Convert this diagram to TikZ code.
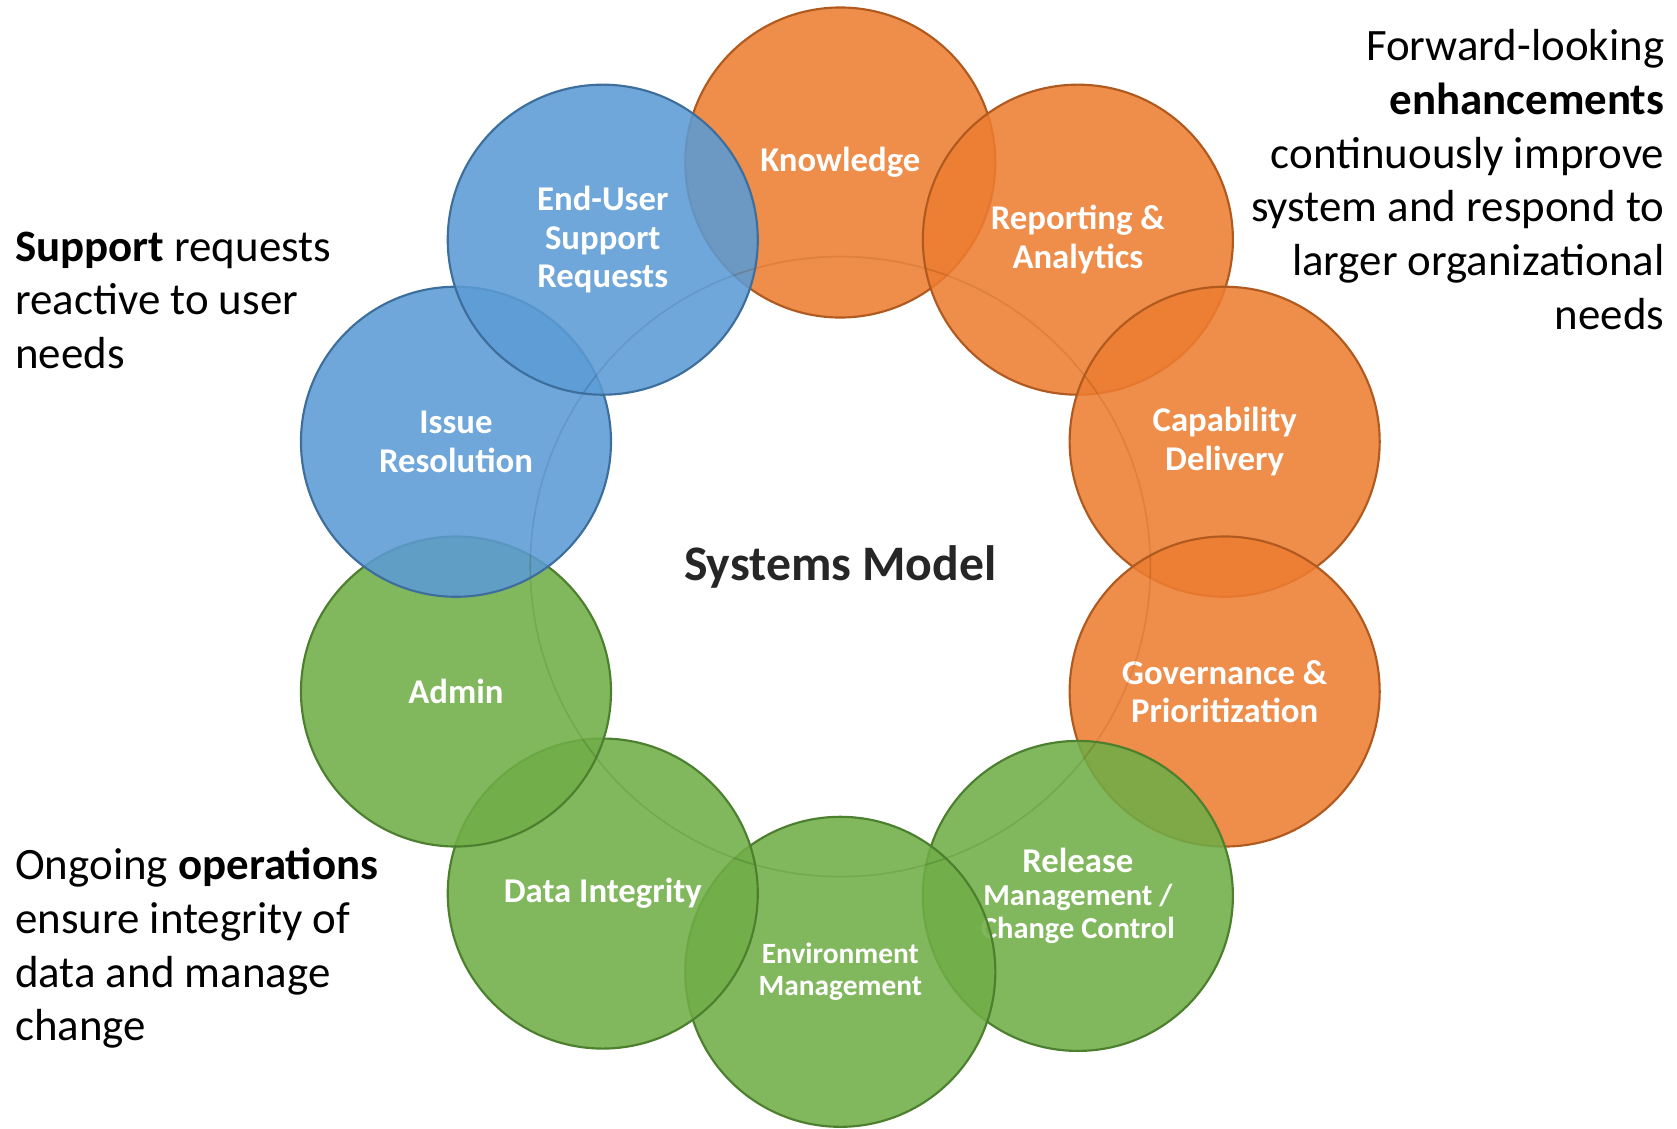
\documentclass[tikz,border=0pt]{standalone}
\usepackage{fontspec}
\setmainfont{Carlito}
\definecolor{org}{HTML}{ED7D31}
\definecolor{orgd}{HTML}{B05A1F}
\definecolor{blu}{HTML}{5B9BD5}
\definecolor{blud}{HTML}{3E6E9B}
\definecolor{grn}{HTML}{70AD47}
\definecolor{grnd}{HTML}{4C7F2E}
\definecolor{ink}{HTML}{262626}
\begin{document}
\begin{tikzpicture}[x=1pt,y=-1pt,
  bub/.style={circle, minimum size=290pt, inner sep=0pt, fill opacity=0.88, text opacity=1,
    line width=2pt, text=white, font=\bfseries\fontsize{32.5}{36}\selectfont, align=center},
  ob/.style={bub, fill=org, draw=orgd},
  bb/.style={bub, fill=blu, draw=blud},
  gb/.style={bub, fill=grn, draw=grnd},
  faint/.style={line width=1.5pt, draw opacity=0.25},
  side/.style={inner sep=0pt, text=black, font=\fontsize{42}{50.3}\selectfont}]
\useasboundingbox (0,0) rectangle (1568.6,1056);
\coordinate (ctr) at (786,530);
% bubbles
\node[ob] (know) at (786,152) {Knowledge};
\node[ob] (rep) at (1008.2,224.2) {Reporting \&\\Analytics};
\node[ob] (cap) at (1145.5,413.2) {Capability\\Delivery};
\node[ob] (gov) at (1145.5,646.8) {Governance \&\\Prioritization};
\node[gb, font=\bfseries\fontsize{28.5}{31}\selectfont] (rel) at (1008.2,838) {{\fontsize{32.5}{34}\selectfont Release}\\Management /\\Change Control};
\node[gb, font=\bfseries\fontsize{27.5}{30}\selectfont] (env) at (786,909) {Environment\\Management};
\node[gb] (data) at (563.8,835.8) {Data Integrity};
\node[gb] (adm) at (426.5,646.8) {Admin};
\node[bb] (iss) at (426.5,413.2) {Issue\\Resolution};
\node[bb] (eus) at (563.8,224.2) {End-User\\Support\\Requests};
% faint inner ring, visible only inside the bubbles
\foreach \n/\c in {know/orgd,rep/orgd,cap/orgd,gov/orgd,rel/grnd,env/grnd,data/grnd,adm/grnd,iss/blud,eus/blud}{
  \begin{scope}
    \clip (\n.center) circle (145pt);
    \draw[faint, draw=\c] (ctr) circle (290pt);
  \end{scope}
}
\node[font=\bfseries\fontsize{46.5}{52}\selectfont, text=ink] (title) at (ctr) {Systems Model};
\node[side, anchor=west, align=left] (lefttop) at (14,281) {\textbf{Support} requests\\reactive to user\\needs};
\node[side, anchor=east, align=right] (righttop) at (1557,168) {Forward-looking\\\textbf{enhancements}\\continuously improve\\system and respond to\\larger organizational\\needs};
\node[side, anchor=west, align=left] (leftbot) at (14,887) {Ongoing \textbf{operations}\\ensure integrity of\\data and manage\\change};
\end{tikzpicture}
\end{document}
